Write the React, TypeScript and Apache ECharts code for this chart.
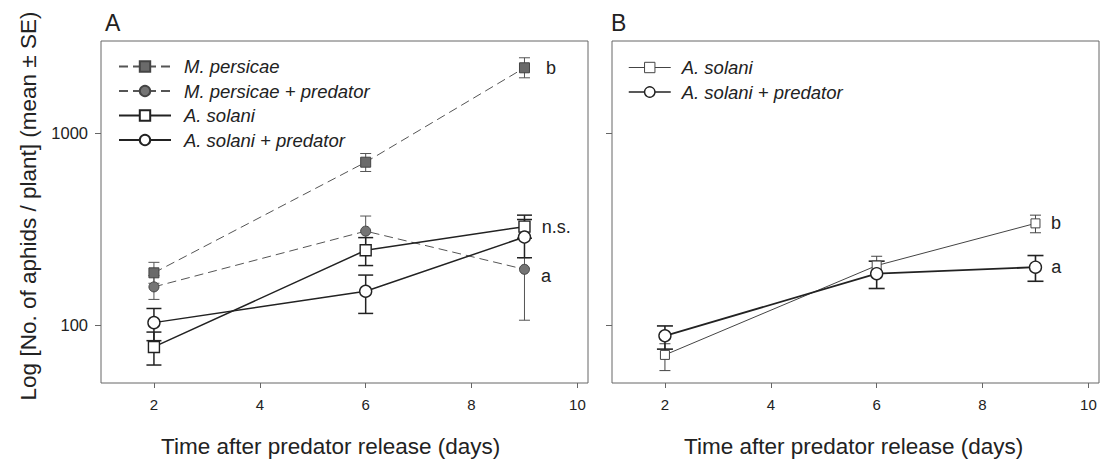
import { useEffect, useRef } from 'react';
import * as echarts from 'echarts';

// ---- data ----
const days = [2, 6, 9];
const xTicks = [2, 4, 6, 8, 10];
const yTicks = [100, 1000];

// Panel A
const mpMean = [187, 703, 2177];
const mpLow = [165, 629, 1931];
const mpHigh = [212, 780, 2454];

const mppMean = [158, 308, 195];
const mppLow = [136, 258, 106];
const mppHigh = [181, 369, 224];

const asMean = [77, 245, 325];
const asLow = [62, 204, 283];
const asHigh = [92, 285, 373];

const aspMean = [103, 150, 287];
const aspLow = [83, 115, 224];
const aspHigh = [122, 182, 354];

// Panel B
const bsMean = [70, 204, 338];
const bsLow = [58, 182, 302];
const bsHigh = [80, 228, 373];

const bspMean = [88, 185, 200];
const bspLow = [75, 155, 169];
const bspHigh = [99, 215, 230];

const namesA = ['M. persicae', 'M. persicae + predator', 'A. solani', 'A. solani + predator'];
const namesB = ['A. solani', 'A. solani + predator'];
const tagsA = ['b', 'a', 'n.s.', ''];
const tagsB = ['b', 'a'];

const yTitle = 'Log [No. of aphids / plant] (mean ± SE)';
const xTitle = 'Time after predator release (days)';
const panelTitles = ['A', 'B'];

const FONT = "'Liberation Sans', Arial, Helvetica, sans-serif";
const DARK = '#222';
const GRAYLINE = '#666';

function points(mean: number[], tag: string, dist: number, offset: number[]) {
  return days.map((d, i) => {
    if (i === days.length - 1 && tag) {
      return {
        value: [d, mean[i]],
        label: {
          show: true,
          formatter: tag,
          position: 'right',
          distance: dist,
          offset,
          fontSize: 18,
          fontFamily: FONT,
          color: DARK,
        },
      };
    }
    return [d, mean[i]];
  });
}

function errorSeries(gi: number, low: number[], high: number[], color: string, width: number, cap: number) {
  return {
    type: 'custom',
    xAxisIndex: gi,
    yAxisIndex: gi,
    silent: true,
    z: 1,
    data: days.map((d, i) => [d, low[i], high[i]]),
    encode: { x: 0, y: [1, 2] },
    renderItem: (_params: any, api: any) => {
      const x = api.value(0);
      const p1 = api.coord([x, api.value(1)]);
      const p2 = api.coord([x, api.value(2)]);
      const style = { stroke: color, lineWidth: width, fill: null };
      return {
        type: 'group',
        children: [
          { type: 'line', shape: { x1: p1[0], y1: p1[1], x2: p2[0], y2: p2[1] }, style },
          { type: 'line', shape: { x1: p1[0] - cap / 2, y1: p1[1], x2: p1[0] + cap / 2, y2: p1[1] }, style },
          { type: 'line', shape: { x1: p2[0] - cap / 2, y1: p2[1], x2: p2[0] + cap / 2, y2: p2[1] }, style },
        ],
      };
    },
  };
}

function lineSeries(gi: number, name: string, data: any[], symbol: string, size: number, lineStyle: any, itemStyle: any) {
  return {
    type: 'line',
    name,
    xAxisIndex: gi,
    yAxisIndex: gi,
    data,
    symbol,
    symbolSize: size,
    showSymbol: true,
    z: 3,
    lineStyle,
    itemStyle,
    emphasis: { disabled: true },
  };
}

function xAxis(gi: number) {
  return {
    type: 'value',
    gridIndex: gi,
    min: 1,
    max: 10.2,
    axisLine: { show: false },
    splitLine: { show: false },
    axisTick: { show: true, length: 5, lineStyle: { color: GRAYLINE }, customValues: xTicks },
    axisLabel: { show: true, customValues: xTicks, fontSize: 15, fontFamily: FONT, color: DARK, margin: 14 },
  };
}

function yAxis(gi: number, labels: boolean) {
  return {
    type: 'log',
    logBase: 10,
    gridIndex: gi,
    min: 50,
    max: 3000,
    axisLine: { show: false },
    splitLine: { show: false },
    minorTick: { show: false },
    axisTick: { show: true, length: 6, lineStyle: { color: GRAYLINE }, customValues: yTicks },
    axisLabel: {
      show: labels,
      customValues: yTicks,
      formatter: (v: number) => String(Math.round(v)),
      fontSize: 16.5,
      fontFamily: FONT,
      color: DARK,
      margin: 13,
    },
  };
}

export default function App() {
  const ref = useRef<HTMLDivElement>(null);

  useEffect(() => {
    if (!ref.current) return;
    const chart = echarts.init(ref.current, null, { renderer: 'svg' });

    const dashed = { color: '#555', width: 1, type: [9, 5] };
    const solidA = { color: DARK, width: 1.5, type: 'solid' };
    const grayFillSq = { color: '#6a6a6a', borderColor: '#444', borderWidth: 1 };
    const grayFillCi = { color: '#747474', borderColor: '#444', borderWidth: 1 };
    const openA = { color: '#fff', borderColor: DARK, borderWidth: 1.4 };
    const thinB = { color: '#444', width: 1, type: 'solid' };
    const openThin = { color: '#fff', borderColor: '#444', borderWidth: 1 };

    const option: any = {
      animation: false,
      backgroundColor: '#fff',
      textStyle: { fontFamily: FONT },
      grid: [
        { left: 101, top: 41, width: 487, height: 342, show: true, borderColor: GRAYLINE, borderWidth: 1, backgroundColor: 'transparent', outerBoundsMode: 'none' },
        { left: 612, top: 41, width: 487, height: 342, show: true, borderColor: GRAYLINE, borderWidth: 1, backgroundColor: 'transparent', outerBoundsMode: 'none' },
      ],
      xAxis: [xAxis(0), xAxis(1)],
      yAxis: [yAxis(0, true), yAxis(1, false)],
      legend: [
        {
          orient: 'vertical',
          left: 118,
          top: 57,
          padding: 0,
          itemWidth: 52,
          itemHeight: 13,
          itemGap: 5.5,
          selectedMode: false,
          data: namesA.map((n) => ({ name: n })),
          textStyle: { fontSize: 18.5, fontStyle: 'italic', fontFamily: FONT, color: DARK, padding: [0, 0, 0, 8] },
        },
        {
          orient: 'vertical',
          left: 628,
          top: 58,
          padding: 0,
          itemWidth: 42,
          itemHeight: 13,
          itemGap: 5.5,
          selectedMode: false,
          data: [
            { name: namesB[0], itemStyle: openThin, lineStyle: thinB },
            { name: namesB[1], itemStyle: openA, lineStyle: solidA },
          ],
          textStyle: { fontSize: 18.5, fontStyle: 'italic', fontFamily: FONT, color: DARK, padding: [0, 0, 0, 6] },
        },
      ],
      graphic: [
        { type: 'text', x: 105, y: 23, style: { text: panelTitles[0], fontSize: 23, fontFamily: FONT, fill: DARK, align: 'left', verticalAlign: 'middle' } },
        { type: 'text', x: 611, y: 23, style: { text: panelTitles[1], fontSize: 23, fontFamily: FONT, fill: DARK, align: 'left', verticalAlign: 'middle' } },
        { type: 'text', x: 161, y: 446, style: { text: xTitle, fontSize: 22.5, fontFamily: FONT, fill: DARK, align: 'left', verticalAlign: 'middle' } },
        { type: 'text', x: 684, y: 446, style: { text: xTitle, fontSize: 22.5, fontFamily: FONT, fill: DARK, align: 'left', verticalAlign: 'middle' } },
        { type: 'text', x: 28, y: 206, rotation: Math.PI / 2, style: { text: yTitle, fontSize: 22.5, fontFamily: FONT, fill: DARK, align: 'center', verticalAlign: 'middle' } },
      ],
      series: [
        errorSeries(0, mpLow, mpHigh, '#555', 1, 11),
        errorSeries(0, mppLow, mppHigh, '#555', 1, 11),
        errorSeries(0, asLow, asHigh, DARK, 1.5, 15),
        errorSeries(0, aspLow, aspHigh, DARK, 1.5, 15),
        lineSeries(0, namesA[0], points(mpMean, tagsA[0], 16, [0, 0]), 'rect', 10, dashed, grayFillSq),
        lineSeries(0, namesA[1], points(mppMean, tagsA[1], 11, [0, 7]), 'circle', 10, dashed, grayFillCi),
        lineSeries(0, namesA[2], points(asMean, tagsA[2], 11, [0, 0]), 'rect', 11, solidA, openA),
        lineSeries(0, namesA[3], points(aspMean, tagsA[3], 10, [0, 0]), 'circle', 12, solidA, openA),

        errorSeries(1, bsLow, bsHigh, '#444', 1, 11),
        errorSeries(1, bspLow, bspHigh, DARK, 1.6, 16),
        lineSeries(1, namesB[0], points(bsMean, tagsB[0], 10.5, [0, 0]), 'rect', 9, thinB, openThin),
        lineSeries(1, namesB[1], points(bspMean, tagsB[1], 9, [0, 0]), 'circle', 12, { color: DARK, width: 1.8, type: 'solid' }, openA),
      ],
    };

    chart.setOption(option);
    return () => chart.dispose();
  }, []);

  return <div ref={ref} style={{ position: 'fixed', left: 0, top: 0, width: 1104, height: 464, background: '#fff' }} />;
}
